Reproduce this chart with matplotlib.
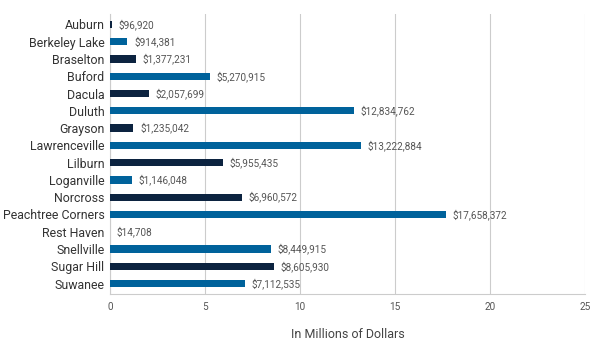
import matplotlib.pyplot as plt

cities = ['Auburn', 'Berkeley Lake', 'Braselton', 'Buford', 'Dacula', 'Duluth',
          'Grayson', 'Lawrenceville', 'Lilburn', 'Loganville', 'Norcross',
          'Peachtree Corners', 'Rest Haven', 'Snellville', 'Sugar Hill', 'Suwanee']
amounts = [96920, 914381, 1377231, 5270915, 2057699, 12834762,
           1235042, 13222884, 5955435, 1146048, 6960572,
           17658372, 14708, 8449915, 8605930, 7112535]
x_ticks = [0, 5, 10, 15, 20, 25]

dark = '#0c2340'
blue = '#00629b'
colors = [dark if i % 2 == 0 else blue for i in range(len(cities))]

plt.rcParams['font.family'] = ['Roboto', 'DejaVu Sans']

fig = plt.figure(figsize=(6, 3.54), dpi=100)
ax = fig.add_axes([110 / 600, 1 - 294 / 354, 475 / 600, 280 / 354])

vals = [a / 1e6 for a in amounts]
ypos = list(range(len(cities)))
ax.barh(ypos, vals, height=0.42, color=colors, zorder=3)
for y, v, a in zip(ypos, vals, amounts):
    ax.text(v + 0.35, y, '${:,}'.format(a), va='center', ha='left',
            fontsize=7.2, color='#555555', zorder=4)

ax.set_yticks(ypos)
ax.set_yticklabels(cities, fontsize=8.9, color='#333333')
ax.set_ylim(len(cities) - 0.4, -0.6)
ax.set_xlim(0, 25)
ax.set_xticks(x_ticks)
ax.set_xticklabels([str(t) for t in x_ticks], fontsize=7.2, color='#555555')
ax.tick_params(axis='both', length=0)
ax.tick_params(axis='x', pad=6)
ax.tick_params(axis='y', pad=4)
ax.grid(axis='x', color='#cccccc', linewidth=0.8, zorder=0)
for s in ['top', 'right']:
    ax.spines[s].set_visible(False)
for s in ['left', 'bottom']:
    ax.spines[s].set_color('#cccccc')
    ax.spines[s].set_linewidth(0.8)
ax.set_xlabel('In Millions of Dollars', fontsize=9, color='#444444', labelpad=11)

fig.savefig('out.png', dpi=100)
